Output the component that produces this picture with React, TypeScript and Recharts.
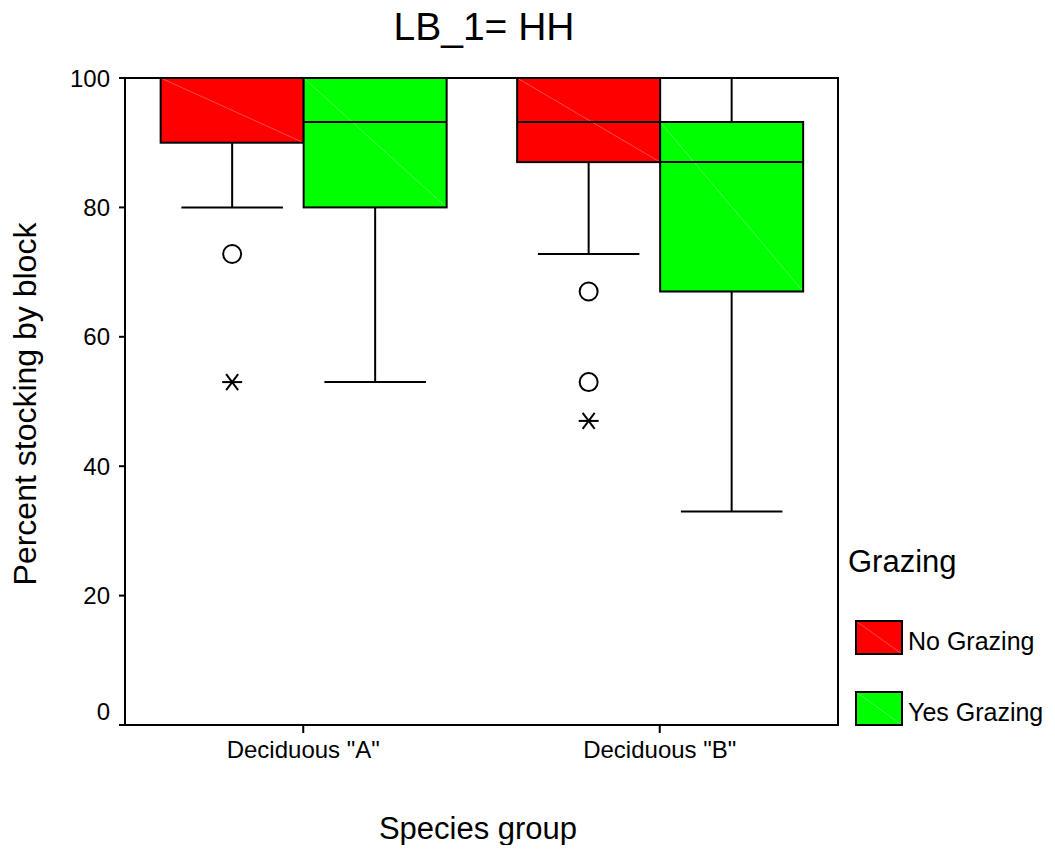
import React from 'react';
import { ComposedChart, Bar, XAxis, YAxis, Legend, ReferenceArea, Customized } from 'recharts';

const FONT = '"Liberation Sans", Arial, Helvetica, sans-serif';

// Categories and series
const categories = ['Deciduous "A"', 'Deciduous "B"'];
const seriesNames = ['No Grazing', 'Yes Grazing'];
const seriesColors = ['#FF0000', '#00FF00'];
const diagColors = ['#ff7a7a', '#7aff7a'];

// No Grazing box statistics
const noLow = [80, 72.8];
const noQ1 = [90, 87];
const noMedian = [100, 93.2];
const noQ3 = [100, 100];
const noHigh = [100, 100];
const noOutliers = [[72.8], [67, 53]];
const noExtremes = [[53], [47]];

// Yes Grazing box statistics
const yesLow = [53, 33];
const yesQ1 = [80, 67];
const yesMedian = [93.2, 87];
const yesQ3 = [100, 93.2];
const yesHigh = [100, 100];
const yesOutliers: number[][] = [[], []];
const yesExtremes: number[][] = [[], []];

const yTicks = [0, 20, 40, 60, 80, 100];

const data = categories.map((name, i) => ({
  name,
  no: {
    low: noLow[i], q1: noQ1[i], median: noMedian[i], q3: noQ3[i], high: noHigh[i],
    outliers: noOutliers[i], extremes: noExtremes[i],
  },
  yes: {
    low: yesLow[i], q1: yesQ1[i], median: yesMedian[i], q3: yesQ3[i], high: yesHigh[i],
    outliers: yesOutliers[i], extremes: yesExtremes[i],
  },
}));

const makeBoxShape = (key: 'no' | 'yes', color: string, diag: string) => (props: any) => {
  const { x, y, width, height, payload } = props;
  const s = payload[key];
  const top = Math.min(y, y + height);
  const bot = Math.max(y, y + height);
  const span = s.high - s.low;
  const py = (v: number) => bot - ((v - s.low) / span) * (bot - top);
  const cx = x + width / 2;
  const capHalf = width * 0.355;
  const bTop = py(s.q3);
  const bBot = py(s.q1);
  const med = py(s.median);
  const st = { stroke: '#000', strokeWidth: 2 };
  return (
    <g>
      {s.high > s.q3 && (
        <g>
          <line x1={cx} x2={cx} y1={py(s.high)} y2={bTop} {...st} />
          <line x1={cx - capHalf} x2={cx + capHalf} y1={py(s.high)} y2={py(s.high)} {...st} />
        </g>
      )}
      {s.low < s.q1 && (
        <g>
          <line x1={cx} x2={cx} y1={bBot} y2={py(s.low)} {...st} />
          <line x1={cx - capHalf} x2={cx + capHalf} y1={py(s.low)} y2={py(s.low)} {...st} />
        </g>
      )}
      <rect x={x} y={bTop} width={width} height={bBot - bTop} fill={color} />
      <line x1={x} y1={bTop} x2={x + width} y2={bBot} stroke={diag} strokeWidth={0.6} />
      <rect x={x} y={bTop} width={width} height={bBot - bTop} fill="none" {...st} />
      <line x1={x} x2={x + width} y1={med} y2={med} {...st} />
      {s.outliers.map((v: number, i: number) => (
        <circle key={'o' + i} cx={cx} cy={py(v)} r={9} fill="#fff" {...st} />
      ))}
      {s.extremes.map((v: number, i: number) => {
        const ey = py(v);
        return (
          <g key={'e' + i}>
            <line x1={cx - 10} x2={cx + 10} y1={ey} y2={ey} {...st} />
            <line x1={cx - 6} x2={cx + 6} y1={ey - 8} y2={ey + 8} {...st} />
            <line x1={cx - 6} x2={cx + 6} y1={ey + 8} y2={ey - 8} {...st} />
          </g>
        );
      })}
    </g>
  );
};

const YTick = (props: any) => {
  const { x, y, payload } = props;
  const shift = payload.value === 0 ? -14 : 0;
  return (
    <text x={x} y={y + shift} dy="0.355em" textAnchor="end" fontSize={24} fill="#000" fontFamily={FONT}>
      {payload.value}
    </text>
  );
};

const XTick = (props: any) => {
  const { x, y, payload } = props;
  return (
    <text x={x} y={y} dy="0.71em" textAnchor="middle" fontSize={24} fill="#000" fontFamily={FONT}>
      {payload.value}
    </text>
  );
};

const Texts = () => (
  <g fontFamily={FONT} fill="#000">
    <text x={484} y={40} textAnchor="middle" fontSize={39}>LB_1= HH</text>
    <text x={478} y={839} textAnchor="middle" fontSize={31}>Species group</text>
    <text x={28} y={404} transform="rotate(-90 28 404)" textAnchor="middle" dy="0.25em" fontSize={32}>
      Percent stocking by block
    </text>
  </g>
);

const LegendContent = (props: any) => {
  const payload = props.payload && props.payload.length ? props.payload : seriesNames.map((n, i) => ({ value: n, color: seriesColors[i] }));
  return (
    <svg width={212} height={200} style={{ display: 'block', overflow: 'visible' }}>
      <g fontFamily={FONT} fill="#000">
        <text x={5} y={29} fontSize={31}>Grazing</text>
        {payload.map((p: any, i: number) => {
          const idx = seriesNames.indexOf(p.value);
          const c = idx >= 0 ? seriesColors[idx] : p.color;
          const dc = idx >= 0 ? diagColors[idx] : p.color;
          const top = 78 + i * 71;
          return (
            <g key={p.value}>
              <rect x={13} y={top} width={46} height={33} fill={c} />
              <line x1={13} y1={top} x2={59} y2={top + 33} stroke={dc} strokeWidth={0.6} />
              <rect x={13} y={top} width={46} height={33} fill="none" stroke="#000" strokeWidth={2} />
              <text x={65} y={top + 29} fontSize={25}>{p.value}</text>
            </g>
          );
        })}
      </g>
    </svg>
  );
};

export default function App() {
  return (
    <div style={{ margin: -8, width: 1055, height: 853 }}>
      <ComposedChart
        width={1055}
        height={853}
        data={data}
        margin={{ top: 78, right: 217, bottom: 68, left: 25 }}
        barCategoryGap="10%"
        barGap={0}
      >
        <XAxis
          dataKey="name"
          height={60}
          tickSize={8}
          tickMargin={8}
          tick={<XTick />}
          axisLine={{ stroke: '#000', strokeWidth: 2 }}
          tickLine={{ stroke: '#000', strokeWidth: 2 }}
        />
        <YAxis
          type="number"
          domain={[0, 100]}
          ticks={yTicks}
          width={100}
          tickSize={6}
          tickMargin={9}
          tick={<YTick />}
          axisLine={{ stroke: '#000', strokeWidth: 2 }}
          tickLine={{ stroke: '#000', strokeWidth: 2 }}
          allowDataOverflow
        />
        <ReferenceArea y1={0} y2={100} fill="none" fillOpacity={0} stroke="#000" strokeWidth={2} ifOverflow="visible" />
        <Bar
          dataKey={(d: any) => [d.no.low, d.no.high]}
          name={seriesNames[0]}
          fill={seriesColors[0]}
          shape={makeBoxShape('no', seriesColors[0], diagColors[0])}
          isAnimationActive={false}
        />
        <Bar
          dataKey={(d: any) => [d.yes.low, d.yes.high]}
          name={seriesNames[1]}
          fill={seriesColors[1]}
          shape={makeBoxShape('yes', seriesColors[1], diagColors[1])}
          isAnimationActive={false}
        />
        <Legend
          content={<LegendContent />}
          layout="horizontal"
          verticalAlign="middle"
          align="center"
          wrapperStyle={{ position: 'absolute', left: 843, top: 543, width: 212, height: 200 }}
        />
        <Customized component={Texts} />
      </ComposedChart>
    </div>
  );
}
